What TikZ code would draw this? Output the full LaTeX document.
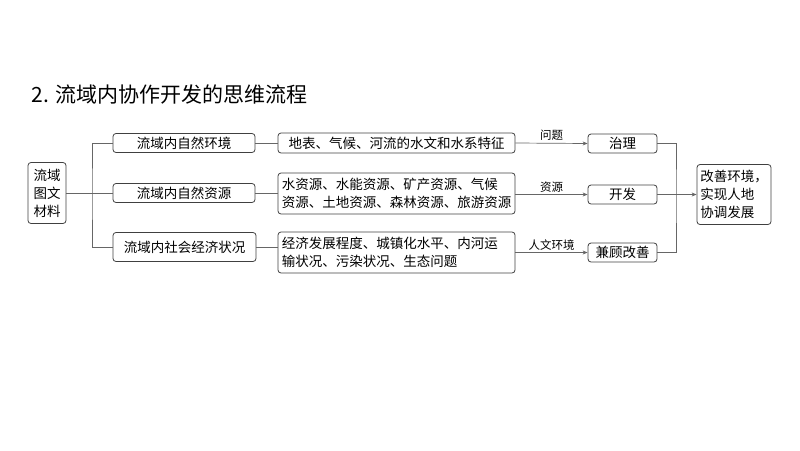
\documentclass[tikz,border=0pt]{standalone}
\usepackage{fontspec}
\setmainfont{Noto Sans CJK SC}
\usetikzlibrary{arrows.meta}
\begin{document}
\begin{tikzpicture}[x=1pt,y=-1pt,
 bx/.style={draw=black!75,rounded corners=3pt,line width=0.8pt,inner sep=0pt,font=\fontsize{13.5}{18}\selectfont},
 ln/.style={draw=black!60,line width=0.7pt},
 ar/.style={ln,-{Stealth[length=5pt,width=4pt]}},
 lb/.style={font=\fontsize{11.5}{14}\selectfont,above,inner sep=2pt}]
\useasboundingbox (0,0) rectangle (800,450);
\node[anchor=west,font=\fontsize{21}{24}\selectfont] (t) at (28,95) {2. 流域内协作开发的思维流程};
\node[bx,minimum width=38,minimum height=61,align=center] (a) at (47,193) {流域\\图文\\材料};
\node[bx,minimum width=142,minimum height=19] (b1) at (184,143) {流域内自然环境};
\node[bx,minimum width=142,minimum height=19] (b2) at (184,193) {流域内自然资源};
\node[bx,minimum width=143,minimum height=29] (b3) at (184.5,247) {流域内社会经济状况};
\node[bx,minimum width=237,minimum height=20] (c1) at (396.5,143) {地表、气候、河流的水文和水系特征};
\node[bx,minimum width=237,minimum height=41,align=left] (c2) at (396.5,193.5) {水资源、水能资源、矿产资源、气候\\资源、土地资源、森林资源、旅游资源};
\node[bx,minimum width=237,minimum height=41,align=left] (c3) at (396.5,252.5) {经济发展程度、城镇化水平、内河运\\输状况、污染状况、生态问题\hphantom{、城镇化}};
\node[bx,minimum width=69,minimum height=19] (d1) at (622.5,143.5) {治理};
\node[bx,minimum width=69,minimum height=19] (d2) at (622.5,194.5) {开发};
\node[bx,minimum width=69,minimum height=19] (d3) at (622.5,252.5) {兼顾改善};
\node[bx,minimum width=74,minimum height=60,align=left] (e) at (734,194.5) {改善环境，\\实现人地\\协调发展};
\coordinate (j1) at (92,193);
\coordinate (j2) at (676,194.5);
\draw[ln] (a.east) -- (j1);
\draw[ln] (b1.west) -| (j1) |- (b3.west);
\draw[ln] (j1) -- (b2.west);
\draw[ln] (b1) -- (c1);
\draw[ln] (b2.east) -- (b2.east -| c2.west);
\draw[ln] (b3) -- (b3 -| c3.west);
\draw[ar] (c1.east) -- node[lb]{问题} (d1.west);
\draw[ar] (c2.east |- d2) -- node[lb]{资源} (d2.west);
\draw[ar] (c3.east) -- node[lb]{人文环境} (d3.west);
\draw[ln] (d1.east) -| (j2) |- (d3.east);
\draw[ln] (d2.east) -- (j2);
\draw[ar] (j2) -- (e.west);
\end{tikzpicture}
\end{document}
